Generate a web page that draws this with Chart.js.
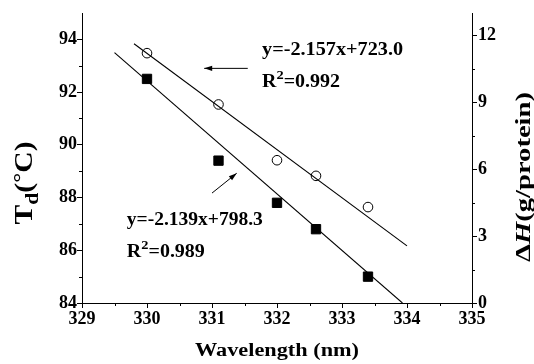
<!DOCTYPE html>
<html><head><meta charset="utf-8">
<script src="https://cdn.jsdelivr.net/npm/chart.js@4/dist/chart.umd.min.js"></script>
<style>html,body{margin:0;padding:0;background:#fff}canvas{display:block}</style>
</head><body>
<canvas id="c" width="534" height="364"></canvas>
<script>
// ---- data ----
const wavelengthTd = [330.0, 331.1, 332.0, 332.6, 333.4];
const tdValues     = [92.5, 89.4, 87.8, 86.8, 85.0];
const wavelengthDH = [330.0, 331.1, 332.0, 332.6, 333.4];
const dhValues     = [11.2, 8.9, 6.4, 5.7, 4.3];
const fitTdX = [329.5, 333.93];
const fitTdY = [93.5, 84.0];
const fitDHX = [329.8, 334.0];
const fitDHY = [11.62, 2.56];
const xRange  = [329, 335];
const yRange  = [84, 95];
const y1Range = [0, 13];
const xTitle = 'Wavelength (nm)';
const eqUpper = 'y=-2.157x+723.0';
const r2Upper = '=0.992';
const eqLower = 'y=-2.139x+798.3';
const r2Lower = '=0.989';

const SERIF = '"Liberation Serif","Times New Roman",serif';
function fnt(size, italic){ return (italic ? 'italic ' : '') + 'bold ' + size + 'px ' + SERIF; }
function pts(xs, ys){ return xs.map((x,i)=>({x:x, y:ys[i]})); }

function drawRuns(ctx, runs, x, y, opts){
  ctx.save();
  let total = 0;
  runs.forEach(r=>{ ctx.font = fnt(r.size, r.italic); r.w = ctx.measureText(r.t).width; total += r.w + (r.gap||0); });
  const sx = opts.width ? opts.width/total : 1;
  ctx.translate(x, y);
  if (opts.rotate) ctx.rotate(opts.rotate);
  ctx.scale(sx, 1);
  let cx = opts.align === 'center' ? -total/2 : 0;
  ctx.fillStyle = '#000'; ctx.textBaseline = 'alphabetic'; ctx.textAlign = 'left';
  runs.forEach(r=>{ ctx.font = fnt(r.size, r.italic); ctx.fillText(r.t, cx, r.dy||0); cx += r.w + (r.gap||0); });
  ctx.restore();
}
function arrow(ctx, x1, y1, x2, y2){
  ctx.save();
  ctx.strokeStyle = '#000'; ctx.fillStyle = '#000'; ctx.lineWidth = 1;
  ctx.beginPath(); ctx.moveTo(x1,y1); ctx.lineTo(x2,y2); ctx.stroke();
  const a = Math.atan2(y2-y1, x2-x1), L = 8, W = 2.6;
  ctx.beginPath();
  ctx.moveTo(x2, y2);
  ctx.lineTo(x2 - L*Math.cos(a) + W*Math.sin(a), y2 - L*Math.sin(a) - W*Math.cos(a));
  ctx.lineTo(x2 - L*Math.cos(a) - W*Math.sin(a), y2 - L*Math.sin(a) + W*Math.cos(a));
  ctx.closePath(); ctx.fill();
  ctx.restore();
}

const decor = {
  id: 'decor',
  afterDraw(chart){
    const ctx = chart.ctx, s = chart.scales;
    const X = v => s.x.getPixelForValue(v), Y = v => s.y.getPixelForValue(v);
    const ca = chart.chartArea;
    // minor ticks
    ctx.save(); ctx.strokeStyle = '#000'; ctx.lineWidth = 1;
    ctx.beginPath();
    for (let v = xRange[0] + 0.5; v < xRange[1]; v += 1) { const px = Math.round(X(v)) + 0.5; ctx.moveTo(px, ca.bottom); ctx.lineTo(px, ca.bottom + 3); }
    for (let v = yRange[0] + 1; v < yRange[1]; v += 2) { const py = Math.round(Y(v)) + 0.5; ctx.moveTo(ca.left, py); ctx.lineTo(ca.left - 3, py); }
    for (let v = y1Range[0] + 1.5; v < y1Range[1]; v += 3) { const py = Math.round(s.y1.getPixelForValue(v)) + 0.5; ctx.moveTo(ca.right, py); ctx.lineTo(ca.right + 3, py); }
    ctx.stroke(); ctx.restore();

    // axis titles
    drawRuns(ctx, [{t: xTitle, size: 18}], 277, 356, {align:'center', width: 164});
    drawRuns(ctx, [
      {t:'T', size:26}, {t:'d', size:19, dy:6}, {t:'(', size:26}, {t:'\u00B0', size:22, dy:-4}, {t:'C', size:26}, {t:')', size:26}
    ], 32, 183, {align:'center', rotate:-Math.PI/2, width: 83});
    drawRuns(ctx, [
      {t:'\u0394', size:21}, {t:'H', size:21, italic:true}, {t:'(g/protein)', size:21}
    ], 530, 177, {align:'center', rotate:-Math.PI/2, width: 170});

    // annotations
    drawRuns(ctx, [{t:eqUpper, size:18}], X(331.77), Y(93.39), {width: 141});
    drawRuns(ctx, [{t:'R', size:18}, {t:'2', size:13, dy:-8}, {t:r2Upper, size:18}], X(331.77), Y(92.18), {width: 78});
    drawRuns(ctx, [{t:eqLower, size:18}], X(329.69), Y(86.95), {width: 136});
    drawRuns(ctx, [{t:'R', size:18}, {t:'2', size:13, dy:-8}, {t:r2Lower, size:18}], X(329.69), Y(85.74), {width: 78});
    arrow(ctx, X(331.55), Y(92.9), X(330.88), Y(92.9));
    arrow(ctx, X(331.0), Y(88.17), X(331.38), Y(88.92));
  }
};

Chart.defaults.font.family = SERIF;
Chart.defaults.font.size = 18;
Chart.defaults.font.weight = 'bold';
Chart.defaults.color = '#000';

const axisCommon = {
  grid: { display: true, drawOnChartArea: false, drawTicks: true, tickLength: 5, color: '#000', tickColor: '#000', tickWidth: 1 },
  border: { display: true, color: '#000', width: 1 }
};

new Chart(document.getElementById('c'), {
  type: 'scatter',
  data: {
    datasets: [
      { label: 'Td', data: pts(wavelengthTd, tdValues), yAxisID: 'y', pointStyle: 'rect', pointRadius: 6.6, backgroundColor: '#000', borderColor: '#000', borderWidth: 1, showLine: false },
      { label: 'dH', data: pts(wavelengthDH, dhValues), yAxisID: 'y1', pointStyle: 'circle', pointRadius: 4.8, backgroundColor: 'rgba(255,255,255,0)', borderColor: '#000', borderWidth: 1, showLine: false },
      { label: 'fitTd', data: pts(fitTdX, fitTdY), yAxisID: 'y', showLine: true, pointRadius: 0, borderColor: '#000', borderWidth: 1.1, fill: false },
      { label: 'fitDH', data: pts(fitDHX, fitDHY), yAxisID: 'y1', showLine: true, pointRadius: 0, borderColor: '#000', borderWidth: 1.1, fill: false }
    ]
  },
  options: {
    responsive: false, animation: false,
    layout: { padding: { top: 13, left: 0, right: 0, bottom: 0 } },
    plugins: { legend: { display: false }, tooltip: { enabled: false } },
    scales: {
      x: Object.assign({ type: 'linear', position: 'bottom', min: xRange[0], max: xRange[1],
        ticks: { stepSize: 1, padding: 1, maxRotation: 0 },
        afterFit: sc => { sc.height = 61; } }, axisCommon),
      y: Object.assign({ type: 'linear', position: 'left', min: yRange[0], max: yRange[1],
        ticks: { stepSize: 2, includeBounds: false, padding: 0 },
        afterFit: sc => { sc.width = 82; } }, axisCommon),
      y1: Object.assign({ type: 'linear', position: 'right', min: y1Range[0], max: y1Range[1],
        ticks: { stepSize: 3, includeBounds: false, padding: 1 },
        afterFit: sc => { sc.width = 62; } }, axisCommon)
    }
  },
  plugins: [decor]
});
</script>
</body></html>
